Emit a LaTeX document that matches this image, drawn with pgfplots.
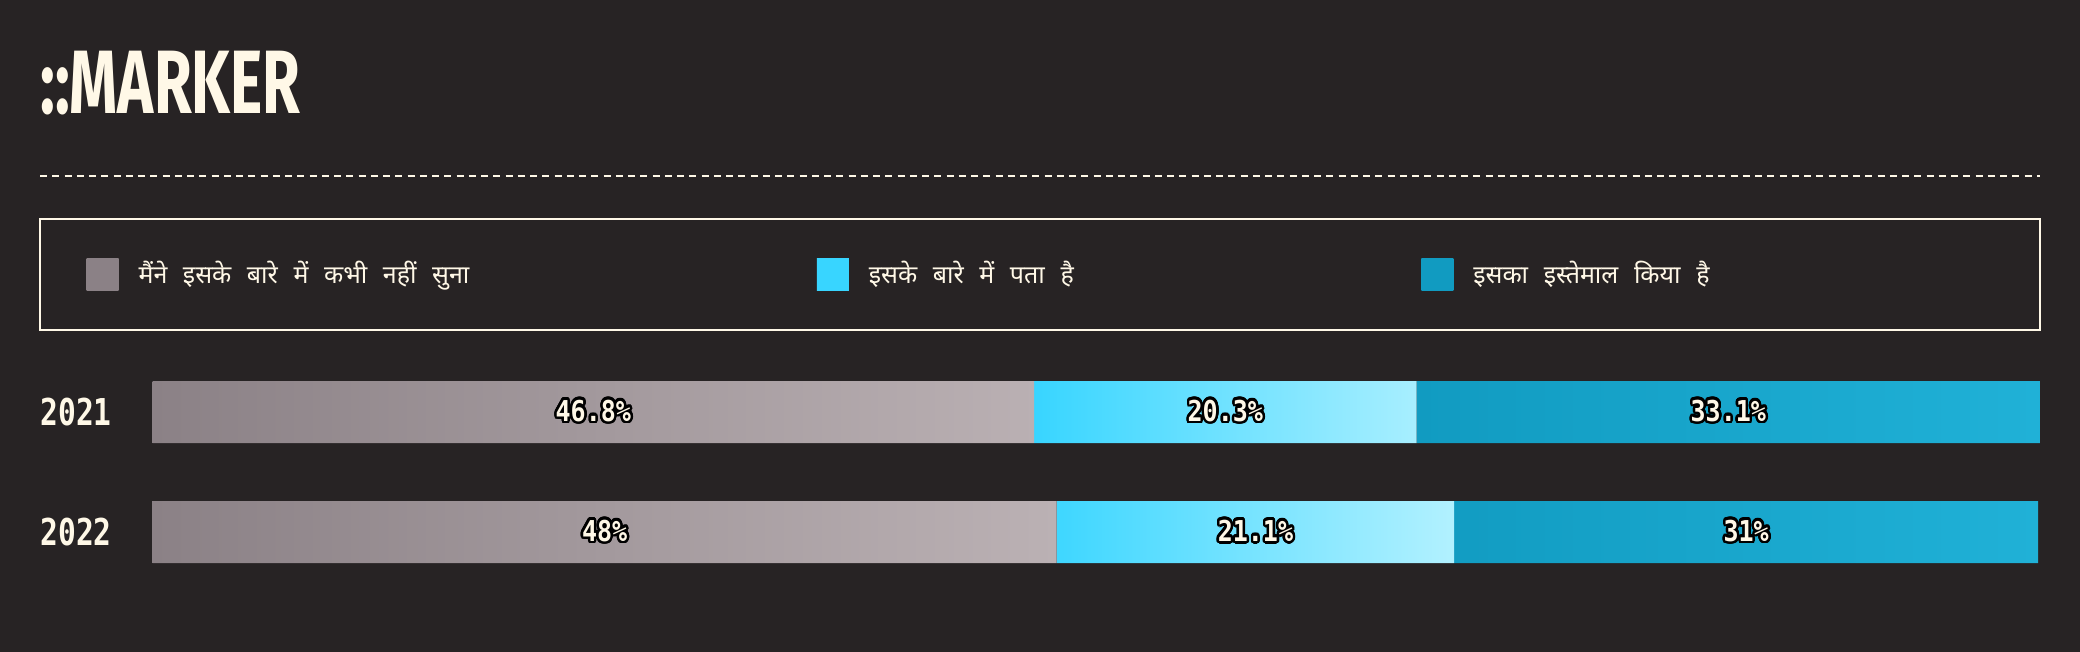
\documentclass[border=0pt]{standalone}
\usepackage{pgfplots}
\pgfplotsset{compat=1.18}
\usepackage{fontspec}
\usepackage{contour}
\setmainfont{Noto Sans}
\newfontfamily\devfont[Script=Devanagari, WordSpace=2.4]{Noto Sans}
\newfontfamily\monofont{DejaVu Sans Mono}
\newfontfamily\titlefont{Fira Sans}
\definecolor{bg}{HTML}{272324}
\definecolor{cream}{HTML}{FFF8E7}
\definecolor{greyA}{HTML}{8B8186}
\definecolor{greyB}{HTML}{BBB1B4}
\definecolor{cyanA}{HTML}{38D5FF}
\definecolor{cyanB}{HTML}{B2F1FF}
\definecolor{tealA}{HTML}{119BC1}
\definecolor{tealB}{HTML}{20B1D7}
\contourlength{1.1pt}
\contournumber{24}
\begin{document}
\begin{tikzpicture}
\begin{scope}[x=0.4pt,y=-0.4pt]
\fill[bg] (0,0) rectangle (2080,652);
\useasboundingbox (0,0) rectangle (2080,652);
\node[anchor=base west, inner sep=0, text=cream] at (40,114) {\scalebox{0.68}[1]{\titlefont\bfseries\fontsize{36}{36}\selectfont ::MARKER}};
\draw[cream, line width=0.8pt, dash pattern=on 2.8pt off 2.1pt] (40,176) -- (2040,176);
\draw[cream, line width=0.8pt] (40,219) rectangle (2040,330);
\end{scope}
\begin{axis}[
  at={(61pt,-236.8pt)}, anchor=south west,
  width=755pt, height=96pt, scale only axis,
  xbar stacked, bar width=24.8pt,
  xmin=0, xmax=100.2, ymin=-0.5, ymax=1.5, y dir=reverse,
  ytick={0,1}, yticklabels={{\scalebox{0.8}[1]{2021}},{\scalebox{0.8}[1]{2022}}},
  xtick=\empty,
  axis line style={draw=none}, major tick style={draw=none},
  yticklabel style={anchor=west, inner sep=0pt, xshift=-45pt, text=cream, font=\monofont\bfseries\fontsize{14.8}{15}\selectfont},
  point meta=explicit symbolic,
  nodes near coords={\scalebox{0.87}[1]{\contour{black}{\pgfplotspointmeta\%}}},
  every node near coord/.append style={anchor=center, text=cream, inner sep=0pt, font=\monofont\bfseries\fontsize{11.5}{12}\selectfont},
  legend columns=3,
  legend cell align=left,
  legend style={at={(axis description cs:-0.0352,1.3229)}, anchor=west, draw=none, fill=none, text=cream, inner sep=0pt,
    font=\devfont\fontsize{10}{12}\selectfont,
    /tikz/every even column/.append style={column sep=137pt},
    /tikz/every odd column/.append style={column sep=6pt}},
]
\addplot[draw=none, left color=greyA, right color=greyB,
  legend image code/.code={\fill[left color=greyA, right color=greyA] (0pt,-6.4pt) rectangle (12.8pt,6.4pt);}]
  coordinates {(46.8,0) [46.8] (48,1) [48]};
\addplot[draw=none, left color=cyanA, right color=cyanB,
  legend image code/.code={\fill[left color=cyanA, right color=cyanA] (0pt,-6.4pt) rectangle (12.8pt,6.4pt);}]
  coordinates {(20.3,0) [20.3] (21.1,1) [21.1]};
\addplot[draw=none, left color=tealA, right color=tealB,
  legend image code/.code={\fill[left color=tealA, right color=tealA] (0pt,-6.4pt) rectangle (12.8pt,6.4pt);}]
  coordinates {(33.1,0) [33.1] (31,1) [31]};
\legend{मैंने इसके बारे में कभी नहीं सुना, इसके बारे में पता है, इसका इस्तेमाल किया है}
\end{axis}
\end{tikzpicture}
\end{document}
